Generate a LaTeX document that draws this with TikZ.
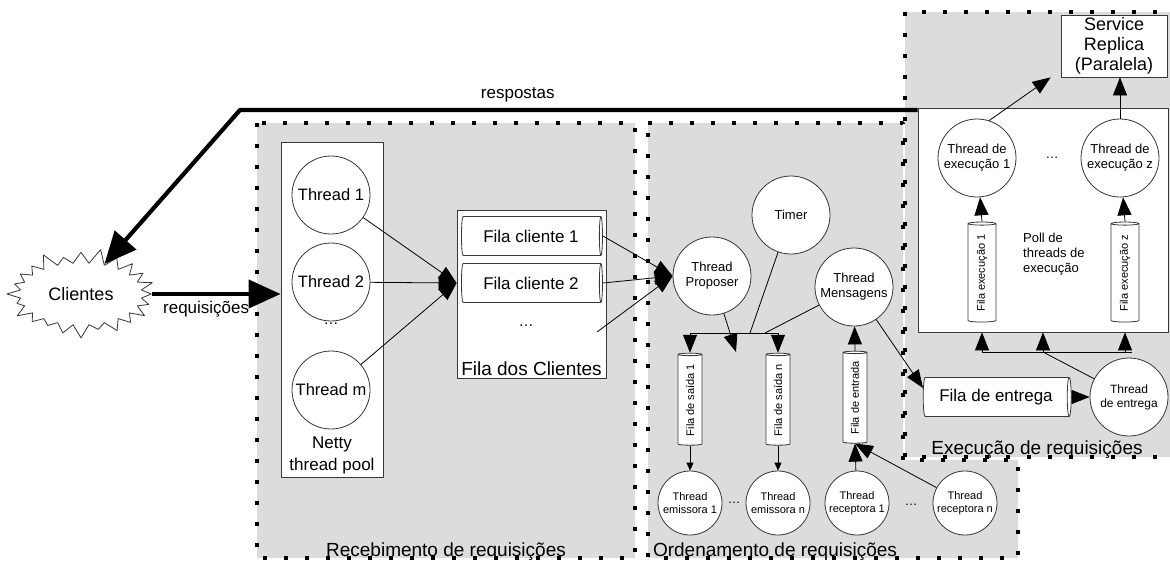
\documentclass[tikz,border=0pt]{standalone}
\usepackage{fontspec}
\setmainfont{Liberation Sans}
\usetikzlibrary{arrows.meta,shapes.geometric,shapes.symbols}
\definecolor{cinza}{RGB}{220,220,220}
\definecolor{traco}{RGB}{55,55,55}

\begin{document}
\begin{tikzpicture}[x=1pt, y=-1pt, line join=round,
  painel/.style={fill=cinza, draw=black, line width=3.6pt, dash pattern=on 3.6pt off 17.4pt},
  caixa/.style={draw=traco, fill=white, line width=0.8pt, inner sep=0pt},
  thr/.style={circle, draw=traco, fill=white, line width=0.8pt, inner sep=0pt, align=center},
  thrg/.style={thr, minimum size=78pt, font=\fontsize{16.5}{19}\selectfont},
  thrm/.style={thr, minimum size=78pt, font=\fontsize{13}{15}\selectfont},
  thrp/.style={thr, minimum size=64pt, font=\fontsize{11}{13}\selectfont},
  filah/.style={cylinder, draw=traco, fill=white, line width=0.8pt, aspect=0.25, inner sep=0pt},
  filav/.style={filah, rotate=90, minimum height=92pt, minimum width=24pt, aspect=0.3, font=\fontsize{11}{13}\selectfont},
  txt/.style={inner sep=0pt, align=center},
  liga/.style={draw=black, line width=0.8pt},
  setap/.style={liga, -{Triangle[length=8pt,width=7pt]}},
  setam/.style={liga, -{Triangle[length=18pt,width=14pt]}},
  setag/.style={draw=black, line width=4.2pt, -{Triangle[length=32pt,width=28pt]}}
]

  %% ════ painéis ════
  \draw[painel] (257,123) rectangle (635,558);
  \draw[painel] (648,123) -- (903,123) -- (903,460) -- (1018,460) -- (1018,558) -- (648,558) -- cycle;
  \draw[painel] (905,12) rectangle (1174,457);
  \node[txt, anchor=base, font=\fontsize{19}{22}\selectfont] (lrec) at (446,556) {Recebimento de requisições};
  \node[txt, anchor=base, font=\fontsize{19}{22}\selectfont] (lord) at (775,556) {Ordenamento de requisições};
  \node[txt, anchor=base, font=\fontsize{19}{22}\selectfont] (lexe) at (1037,454) {Execução de requisições};

  %% ════ clientes ════
  \node[starburst, draw=traco, fill=white, line width=0.8pt, starburst points=24, starburst point height=15pt,
        minimum width=152pt, minimum height=92pt, inner sep=0pt, font=\fontsize{18}{20}\selectfont] (cli) at (81,294) {Clientes};

  %% ════ recebimento ════
  \node[caixa, minimum width=102pt, minimum height=335pt] (netty) at (332,309.5) {};
  \node[txt, anchor=south, font=\fontsize{17}{22}\selectfont] (lnetty) at ([yshift=3pt]netty.south) {Netty\\thread pool};
  \node[thrg] (t1) at (331,195) {Thread 1};
  \node[thrg] (t2) at (331,282) {Thread 2};
  \node[txt, font=\fontsize{15}{17}\selectfont] (tdots) at (331,324) {…};
  \node[thrg] (tm) at (331,390) {Thread m};

  \node[caixa, minimum width=149pt, minimum height=168pt] (fdc) at (531.5,294) {};
  \node[txt, anchor=south, font=\fontsize{19}{22}\selectfont] (lfdc) at ([yshift=3pt]fdc.south) {Fila dos Clientes};
  \node[filah, minimum height=141pt, minimum width=39pt, font=\fontsize{17}{20}\selectfont] (fc1) at (531,236) {Fila cliente 1};
  \node[filah, minimum height=141pt, minimum width=39pt, font=\fontsize{17}{20}\selectfont] (fc2) at (531,283) {Fila cliente 2};
  \node[txt, font=\fontsize{15}{17}\selectfont] (fcdots) at (526,326) {…};
  \coordinate (fcn) at (597,332);
  \coordinate (ent1) at (fdc.west |- fc2);

  %% ════ ordenamento ════
  \node[thrm] (prop) at (712,276) {Thread\\Proposer};
  \node[thrm] (timer) at (791,215) {Timer};
  \node[thrm] (mens) at (854,287) {Thread\\Mensagens};

  \node[filav] (fs1) at (690,400) {Fila de saída 1};
  \node[filav] (fsn) at (778,400) {Fila de saída n};
  \node[filav] (fe) at (855,398) {Fila de entrada};

  \node[thrp] (em1) at (690,503) {Thread\\emissora 1};
  \node[thrp] (emn) at (778,503) {Thread\\emissora n};
  \node[thrp] (re1) at (857,503) {Thread\\receptora 1};
  \node[thrp] (ren) at (965,503) {Thread\\receptora n};
  \node[txt, font=\fontsize{13}{15}\selectfont] (edots) at (734,503) {…};
  \node[txt, font=\fontsize{13}{15}\selectfont] (rdots) at (911,505) {…};

  \coordinate (barra) at (750,333);
  \coordinate (barra2) at (765,333);
  \coordinate (pdesc) at (736,352);

  %% ════ execução ════
  \node[caixa, minimum width=106pt, minimum height=62pt, align=center, font=\fontsize{18}{20}\selectfont] (sr) at (1114,46) {Service\\Replica\\(Paralela)};
  \node[caixa, minimum width=250pt, minimum height=224pt] (pool) at (1043,220) {};
  \node[thrm] (tx1) at (977,158) {Thread de\\execução 1};
  \node[thrm] (txz) at (1120,158) {Thread de\\execução z};
  \node[txt, font=\fontsize{13}{15}\selectfont] (xdots) at (1052,158) {…};
  \node[filav, minimum height=100pt, minimum width=28pt] (fx1) at (982,273) {Fila execução 1};
  \node[filav, minimum height=100pt, minimum width=28pt] (fxz) at (1125,273) {Fila execução z};
  \node[txt, anchor=west, align=left, font=\fontsize{13}{15}\selectfont] (lpoll) at (1023,254) {Poll de\\threads de\\execução};

  \node[filah, minimum height=148pt, minimum width=39pt, font=\fontsize{17}{20}\selectfont] (fent) at (996,397) {Fila de entrega};
  \node[thr, minimum size=78pt, font=\fontsize{12}{14}\selectfont] (tent) at (1129,397) {Thread\\de entrega};
  \coordinate (dist) at (1043,352);
  \coordinate (resp) at (pool.west |- 0,110);
  \coordinate (canto) at (240,110);

  %% ════ ligações ════
  \draw[setag] (cli.east) -- (cli.east -| netty.west) node[pos=0.42, below=2pt, font=\fontsize{17}{20}\selectfont] {requisições};
  \draw[setag] (resp) -- (canto) node[pos=0.59, above=3pt, font=\fontsize{17}{20}\selectfont] {respostas} -- (cli.52);

  \draw[setam] (t1) -- (ent1);
  \draw[setam] (t2) -- (ent1);
  \draw[setam] (tm) -- (ent1);

  \draw[setam] (fc1.east) -- (prop.west);
  \draw[setam] (fc2.east) -- (prop.west);
  \draw[setam] (fcn) -- (prop.west);

  \draw[liga] (fs1.top |- barra) -- (fsn.top |- barra);
  \draw[setam] (fs1.top |- barra) -- (fs1.top);
  \draw[setam] (fsn.top |- barra) -- (fsn.top);
  \draw[liga] (timer) -- (barra);
  \draw[liga] (mens) -- (barra2);
  \draw[setam] (prop) -- (pdesc);

  \draw[setap] (fs1.bottom) -- (em1);
  \draw[setap] (fsn.bottom) -- (emn);
  \draw[setam] (re1) -- (fe.bottom);
  \draw[setam] (ren) -- (fe.bottom);
  \draw[setam] (fe.top) -- (mens);
  \draw[setam] (mens) -- (fent.173);

  \draw[setam] (fent.east) -- (tent);
  \draw[liga] (tent) -- (dist);
  \draw[liga] (fx1 |- dist) -- ([xshift=7pt]fxz |- dist);
  \draw[setam] (fx1 |- dist) -- (fx1 |- pool.south);
  \draw[setam] (dist) -- (dist |- pool.south);
  \draw[setam] (fxz |- dist) -- (fxz |- pool.south);
  \draw[setam] (fx1.top) -- (tx1);
  \draw[setam] (fxz.top) -- (txz);
  \draw[setam] (tx1.72) -- ([xshift=-10pt]sr.south west);
  \draw[setam] (txz) -- (txz |- sr.south);

  % canvas fixo
  \pgfresetboundingbox
  \path[use as bounding box] (0,0) rectangle (1170,562);
\end{tikzpicture}
\end{document}
